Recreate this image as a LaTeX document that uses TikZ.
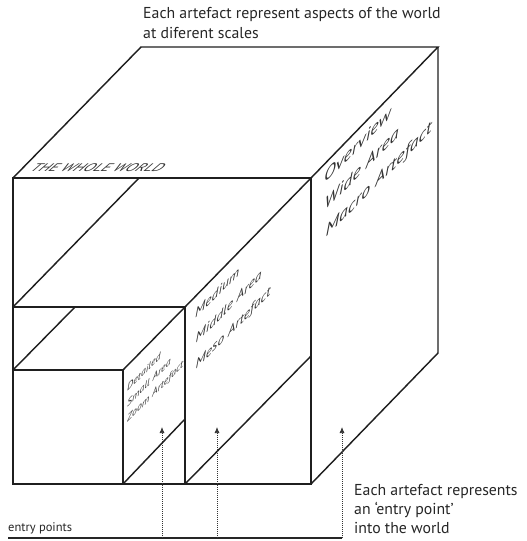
\documentclass[tikz,border=0pt]{standalone}
\usepackage{fontspec}
\newfontfamily\lbl{PT Sans}
\usetikzlibrary{arrows.meta}
\begin{document}
\begin{tikzpicture}[x=1pt,y=1pt,
  edge/.style={line width=1.45pt, draw=black!88, line join=miter},
  entry/.style={line width=0.75pt, draw=black!80, dash pattern=on 0.9pt off 1.1pt,
    -{Latex[length=6pt,width=5pt]}},
  txt/.style={anchor=base west, inner sep=0pt, text=black!85},
  face/.style={anchor=base west, inner sep=0pt, text=black!80, transform shape}]
\useasboundingbox (0,0) rectangle (527,-541);

% outer block (whole world)
\coordinate (fa) at (13,-178);  \coordinate (fb) at (311,-178);
\coordinate (fc) at (311,-484); \coordinate (fd) at (13,-484);
\coordinate (ba) at (141,-47);  \coordinate (bb) at (438,-47);
\coordinate (bc) at (438,-353);
% middle block
\coordinate (m1) at (13,-307);  \coordinate (m2) at (185,-307);
\coordinate (m3) at (185,-484); \coordinate (m4) at (139,-178);
\coordinate (m5) at (311,-356);
% small block
\coordinate (s1) at (13,-370);  \coordinate (s2) at (123,-370);
\coordinate (s3) at (123,-484); \coordinate (s4) at (75,-307);
\coordinate (s5) at (185,-419);

\draw[edge] (fa) -- (fb) -- (fc) -- (fd) -- cycle;
\draw[edge] (fa) -- (ba) -- (bb) -- (fb);
\draw[edge] (bb) -- (bc) -- (fc);
\draw[edge] (m1) -- (m2) -- (m3);
\draw[edge] (fb) -- (m2);
\draw[edge] (m4) -- (m1);
\draw[edge] (m5) -- (m3);
\draw[edge] (s1) -- (s2) -- (s3);
\draw[edge] (m2) -- (s2);
\draw[edge] (s4) -- (s1);
\draw[edge] (s5) -- (s3);

% top label
\node[txt, font=\lbl\fontsize{15.8}{18}\selectfont] (t1) at (143,-18.3) {Each artefact represent aspects of the world};
\node[txt, font=\lbl\fontsize{15.8}{18}\selectfont] (t2) at (143,-38.3) {at diferent scales};

% label on the top face
\begin{scope}[shift={(29,-171.5)}, xslant=0.85]
  \node[face, font=\lbl\itshape\fontsize{11}{12}\selectfont, xscale=1.42] (world) at (0,0) {THE WHOLE WORLD};
\end{scope}

% labels on the side faces
\begin{scope}[shift={(324,-184)}, yslant=1.0]
  \node[face, font=\lbl\itshape\fontsize{16}{17}\selectfont, xscale=1.12] (o1) at (0,0) {Overview};
  \node[face, font=\lbl\itshape\fontsize{16}{17}\selectfont, xscale=1.12] (o2) at (0.5,-27.5) {Wide Area};
  \node[face, font=\lbl\itshape\fontsize{16}{17}\selectfont, xscale=1.12] (o3) at (1.5,-55) {Macro Artefact};
\end{scope}
\begin{scope}[shift={(195,-319)}, yslant=1.0]
  \node[face, font=\lbl\itshape\fontsize{12.5}{13}\selectfont, xscale=1.08] (d1) at (0,0) {Medium};
  \node[face, font=\lbl\itshape\fontsize{12.5}{13}\selectfont, xscale=1.08] (d2) at (0.5,-25.5) {Middle Area};
  \node[face, font=\lbl\itshape\fontsize{12.5}{13}\selectfont, xscale=1.08] (d3) at (0.5,-51) {Meso Artefact};
\end{scope}
\begin{scope}[shift={(127,-392)}, yslant=1.0]
  \node[face, font=\lbl\itshape\fontsize{9.5}{10}\selectfont, xscale=1.04] (z1) at (0,0) {Detailed};
  \node[face, font=\lbl\itshape\fontsize{9.5}{10}\selectfont, xscale=1.04] (z2) at (0,-15.5) {Small Area};
  \node[face, font=\lbl\itshape\fontsize{9.5}{10}\selectfont, xscale=1.04] (z3) at (0,-31) {Zoom Artefact};
\end{scope}

% entry points
\coordinate (e0) at (8,-538);
\coordinate (eb1) at (162,-538); \coordinate (et1) at (162,-427);
\coordinate (eb2) at (217,-538); \coordinate (et2) at (217,-427);
\coordinate (eb3) at (342,-538); \coordinate (et3) at (342,-427);
\draw[line width=1.1pt, black!85] (e0) -- (eb3);
\draw[entry] (eb1) -- (et1);
\draw[entry] (eb2) -- (et2);
\draw[entry] (eb3) -- (et3);
\node[txt, font=\lbl\fontsize{12.5}{14}\selectfont] (ep) at (8,-531) {entry points};

\node[txt, font=\lbl\fontsize{15.8}{18}\selectfont] (r1) at (354,-495) {Each artefact represents};
\node[txt, font=\lbl\fontsize{15.8}{18}\selectfont] (r2) at (354,-514) {an ‘entry point’};
\node[txt, font=\lbl\fontsize{15.8}{18}\selectfont] (r3) at (354,-533) {into the world};
\end{tikzpicture}
\end{document}
